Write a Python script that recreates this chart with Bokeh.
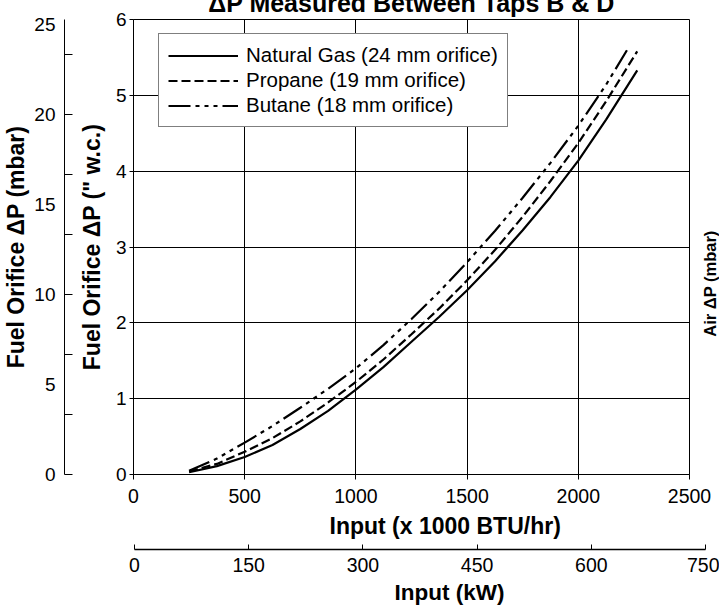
import math
from bokeh.plotting import figure
from bokeh.models import Range1d, LinearAxis, FixedTicker, Legend, LegendItem, Title
from bokeh.layouts import column, row
from bokeh.embed import file_html
from bokeh.resources import INLINE

# ---------------- data ----------------
btu_ng = [250, 375, 500, 625, 750, 875, 1000, 1125, 1250, 1375, 1500, 1625, 1750, 1875, 2000, 2125, 2265]
dp_ng = [0.03, 0.11, 0.23, 0.39, 0.60, 0.84, 1.12, 1.42, 1.75, 2.08, 2.43, 2.81, 3.22, 3.66, 4.14, 4.68, 5.33]

btu_pr = [250, 375, 500, 625, 750, 875, 1000, 1125, 1250, 1375, 1500, 1625, 1750, 1875, 2000, 2125, 2265]
dp_pr = [0.04, 0.14, 0.30, 0.48, 0.70, 0.95, 1.22, 1.52, 1.85, 2.19, 2.56, 2.96, 3.40, 3.87, 4.37, 4.92, 5.58]

btu_bu = [250, 375, 500, 625, 750, 875, 1000, 1125, 1250, 1375, 1500, 1625, 1750, 1875, 2000, 2125, 2230]
dp_bu = [0.05, 0.21, 0.42, 0.64, 0.88, 1.13, 1.40, 1.71, 2.05, 2.41, 2.80, 3.21, 3.65, 4.11, 4.60, 5.14, 5.65]

series_labels = ["Natural Gas (24 mm orifice)", "Propane (19 mm orifice)", "Butane (18 mm orifice)"]

x_ticks = [0, 500, 1000, 1500, 2000, 2500]
wc_ticks = [0, 1, 2, 3, 4, 5, 6]
mbar_ticks = [0, 5, 10, 15, 20, 25]
mbar_minor = [0, 10 / 3, 20 / 3, 10, 40 / 3, 50 / 3, 20, 70 / 3]
kw_ticks = [0, 150, 300, 450, 600, 750]

title_text = "\u0394P Measured Between Taps B & D"
FONT = "Liberation Sans"


def bold_label(ax, size):
    ax.axis_label_text_font = FONT
    ax.axis_label_text_font_style = "bold"
    ax.axis_label_text_font_size = size
    ax.axis_label_text_color = "black"


def tick_font(ax, size):
    ax.major_label_text_font = FONT
    ax.major_label_text_font_size = size
    ax.major_label_text_color = "black"


def label_only_axis(**kw):
    return LinearAxis(ticker=FixedTicker(ticks=[]), axis_line_color=None,
                      major_tick_line_color=None, minor_tick_line_color=None,
                      major_tick_out=0, major_tick_in=0, minor_tick_out=0, minor_tick_in=0,
                      major_label_standoff=0, **kw)


def strip(fig, alpha=1):
    fig.outline_line_color = None
    fig.background_fill_color = "white"
    fig.border_fill_color = "white"
    fig.background_fill_alpha = alpha
    fig.border_fill_alpha = alpha
    fig.grid.visible = False


# ---------------- main figure ----------------
p = figure(width=719, height=533,
           x_range=Range1d(0, 2500), y_range=Range1d(0, 6),
           output_backend="svg", toolbar_location=None,
           min_border_left=133, min_border_right=30,
           min_border_top=40, min_border_bottom=38)
p.extra_y_ranges = {"mbar": Range1d(0, 25.3)}
p.background_fill_color = "white"
p.border_fill_color = "white"
p.outline_line_color = "black"
p.outline_line_width = 1

p.title.text = title_text
p.title.align = "center"
p.title.text_font = FONT
p.title.text_font_style = "bold"
p.title.text_font_size = "25px"
p.title.text_color = "black"
p.title.standoff = 6

# grids
p.xgrid.ticker = FixedTicker(ticks=x_ticks)
p.ygrid.ticker = FixedTicker(ticks=wc_ticks)
for g in (p.xgrid[0], p.ygrid[0]):
    g.grid_line_color = "black"
    g.grid_line_width = 1
    g.grid_line_alpha = 1

# bottom axis (ticks + numbers)
xa = p.xaxis[0]
xa.ticker = FixedTicker(ticks=x_ticks)
xa.major_tick_out = 5
xa.major_tick_in = 0
xa.minor_tick_line_color = None
xa.major_label_standoff = 9
tick_font(xa, "19.5px")

# inner left axis
ya = p.yaxis[0]
ya.ticker = FixedTicker(ticks=wc_ticks)
ya.axis_label = "Fuel Orifice \u0394P (\" w.c.)"
ya.major_tick_out = 4
ya.major_tick_in = 0
ya.minor_tick_line_color = None
ya.major_label_standoff = 3
ya.axis_label_standoff = 8
bold_label(ya, "23px")
tick_font(ya, "19px")

for ax in (xa, ya):
    ax.axis_line_color = "black"
    ax.major_tick_line_color = "black"

# spacer between the two left axes
spacer = label_only_axis(axis_label="\u00a0")
spacer.axis_label_text_font_size = "5px"
spacer.axis_label_standoff = 2
p.add_layout(spacer, "left")

# outer left axis (mbar)
outer = LinearAxis(y_range_name="mbar",
                   ticker=FixedTicker(ticks=mbar_ticks, minor_ticks=mbar_minor),
                   axis_label="Fuel Orifice \u0394P (mbar)")
outer.axis_line_color = "black"
outer.major_tick_line_color = None
outer.major_tick_out = 0
outer.major_tick_in = 0
outer.minor_tick_line_color = "black"
outer.minor_tick_in = 8
outer.minor_tick_out = 0
outer.major_label_standoff = 9
tick_font(outer, "19px")
outer.axis_label_standoff = 2
bold_label(outer, "23px")
p.add_layout(outer, "left")

# curves
r_ng = p.line(btu_ng, dp_ng, line_color="black", line_width=2.2, line_join="round")
r_pr = p.line(btu_pr, dp_pr, line_color="black", line_width=2.2, line_dash="9 4")
r_bu = p.line(btu_bu, dp_bu, line_color="black", line_width=2.2,
              line_dash="22 5 4 5 4 5 4 5")

legend = Legend(items=[LegendItem(label=series_labels[0], renderers=[r_ng]),
                       LegendItem(label=series_labels[1], renderers=[r_pr]),
                       LegendItem(label=series_labels[2], renderers=[r_bu])],
                location=(25, 347))
legend.border_line_color = "black"
legend.border_line_width = 1
legend.background_fill_color = "white"
legend.background_fill_alpha = 1
legend.label_text_font = FONT
legend.label_text_font_size = "20.5px"
legend.label_text_color = "black"
legend.glyph_width = 70
legend.glyph_height = 23
legend.label_height = 23
legend.label_standoff = 8
legend.spacing = 1
legend.padding = 9
legend.margin = 0
p.add_layout(legend, "center")

# ---------------- right-hand "Air" label (thin transparent panel over p's right border) ----------------
p3 = figure(width=29, height=365, x_range=Range1d(0, 1), y_range=Range1d(0, 1),
            output_backend="svg", toolbar_location=None,
            min_border_left=28, min_border_right=0,
            min_border_top=244, min_border_bottom=1)
strip(p3, alpha=0)
p3.xaxis.visible = False
air = p3.yaxis[0]
air.ticker = FixedTicker(ticks=[])
air.axis_line_color = None
air.major_tick_line_color = None
air.minor_tick_line_color = None
air.major_tick_out = 0
air.major_tick_in = 0
air.major_label_standoff = 0
air.axis_label = "Air \u0394P (mbar)"
air.axis_label_standoff = 0
bold_label(air, "16.5px")

# ---------------- kW axis figure (also carries the BTU axis title) ----------------
p2 = figure(width=719, height=113,
            x_range=Range1d(0, 750), y_range=Range1d(0, 1),
            output_backend="svg", toolbar_location=None,
            min_border_left=134, min_border_right=14,
            min_border_top=32, min_border_bottom=71)
strip(p2, alpha=0)
p2.yaxis.visible = False
kx = p2.xaxis[0]
kx.ticker = FixedTicker(ticks=kw_ticks)
kx.axis_line_color = "black"
kx.axis_line_width = 1.5
kx.major_tick_line_color = "black"
kx.major_tick_in = 5
kx.major_tick_out = 0
kx.minor_tick_line_color = None
kx.major_label_standoff = 8
tick_font(kx, "19.5px")

xtitle = Title(text="Input (x 1000 BTU/hr)", align="left", offset=195,
               vertical_align="bottom", standoff=2,
               text_font=FONT, text_font_style="bold", text_font_size="23px",
               text_color="black")
p2.add_layout(xtitle, "above")

ktitle = Title(text="Input (kW)", align="left", offset=260,
               vertical_align="bottom", standoff=6,
               text_font=FONT, text_font_style="bold", text_font_size="22.5px",
               text_color="black")
p2.add_layout(ktitle, "below")

top_row = row(p, column(p3, styles={"margin-left": "-29px"}), spacing=0)
bottom_row = row(p2, styles={"margin-top": "-5px"})
layout = column(top_row, bottom_row, spacing=0,
                styles={"margin-top": "-21px", "margin-bottom": "-40px"})

open("out.html", "w").write(file_html(layout, INLINE))
